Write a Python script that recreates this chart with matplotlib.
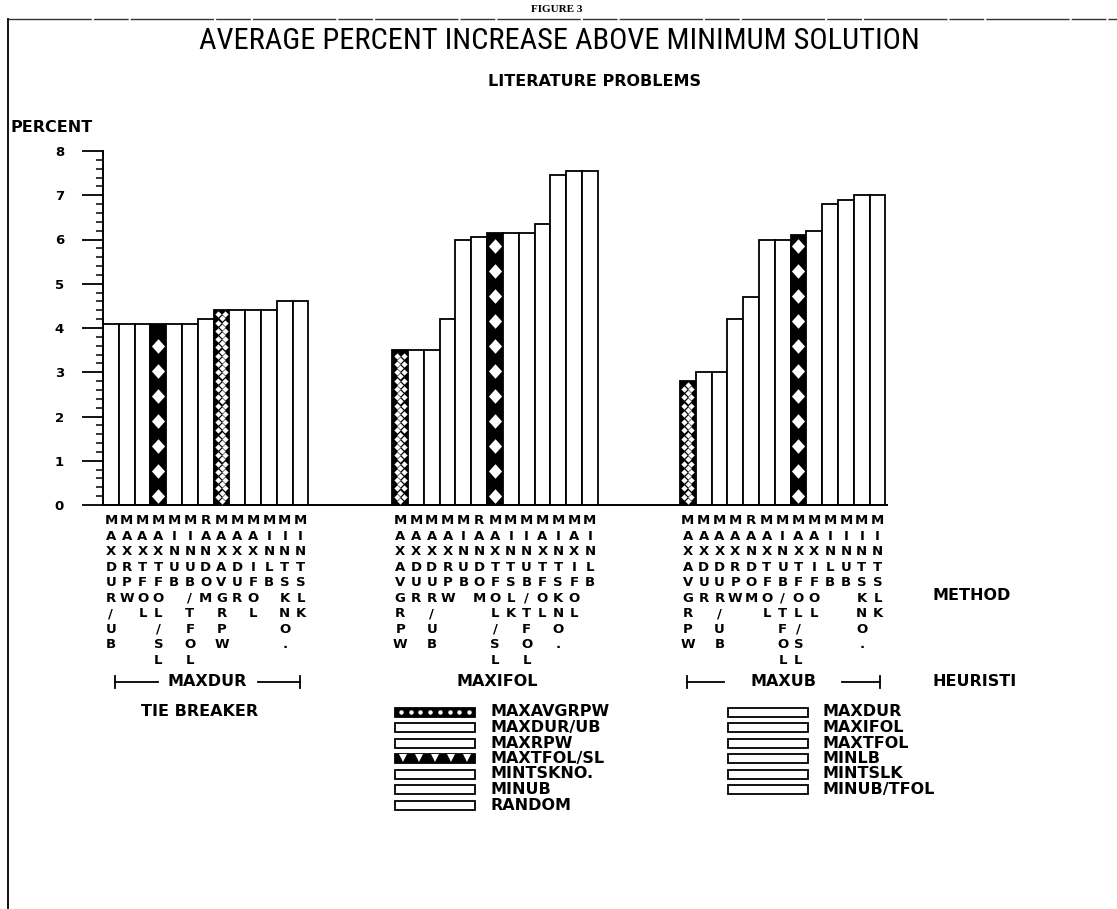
import matplotlib
matplotlib.use("Agg")
import matplotlib.pyplot as plt
from matplotlib import font_manager as fm
from matplotlib.patches import Rectangle
from matplotlib.lines import Line2D
from matplotlib.ticker import MultipleLocator

# ---------------- data ----------------
heuristics = ["MAXDUR", "MAXIFOL", "MAXUB"]

tie_maxdur = ["MAXDUR/UB", "MAXRPW", "MAXTFOL", "MAXTFOL/SL", "MINUB", "MINUB/TFOL",
              "RANDOM", "MAXAVGRPW", "MAXDUR", "MAXIFOL", "MINLB", "MINTSKNO.", "MINTSLK"]
val_maxdur = [4.1, 4.1, 4.1, 4.1, 4.1, 4.1, 4.2, 4.4, 4.4, 4.4, 4.4, 4.6, 4.6]

tie_maxifol = ["MAXAVGRPW", "MAXDUR", "MAXDUR/UB", "MAXRPW", "MINUB", "RANDOM",
               "MAXTFOL/SL", "MINTSLK", "MINUB/TFOL", "MAXTFOL", "MINTSKNO.", "MAXIFOL", "MINLB"]
val_maxifol = [3.5, 3.5, 3.5, 4.2, 6.0, 6.05, 6.15, 6.15, 6.15, 6.35, 7.45, 7.55, 7.55]

tie_maxub = ["MAXAVGRPW", "MAXDUR", "MAXDUR/UB", "MAXRPW", "RANDOM", "MAXTFOL",
             "MINUB/TFOL", "MAXTFOL/SL", "MAXIFOL", "MINLB", "MINUB", "MINTSKNO.", "MINTSLK"]
val_maxub = [2.8, 3.0, 3.0, 4.2, 4.7, 6.0, 6.0, 6.1, 6.2, 6.8, 6.9, 7.0, 7.0]

legend_col1 = ["MAXAVGRPW", "MAXDUR/UB", "MAXRPW", "MAXTFOL/SL", "MINTSKNO.", "MINUB", "RANDOM"]
legend_col2 = ["MAXDUR", "MAXIFOL", "MAXTFOL", "MINLB", "MINTSLK", "MINUB/TFOL"]

ytick_values = [0, 1, 2, 3, 4, 5, 6, 7, 8]

title = "AVERAGE PERCENT INCREASE ABOVE MINIMUM SOLUTION"
subtitle = "LITERATURE PROBLEMS"

# ---------------- fonts ----------------
def condensed_font():
    entries = fm.fontManager.ttflist
    for pref in ["Liberation Sans Narrow", "DejaVu Sans Condensed", "Noto Sans Condensed",
                 "Open Sans Condensed", "Roboto Condensed"]:
        for f in entries:
            if f.name == pref and f.style == "normal" and f.weight in (400, "normal", "regular"):
                return fm.FontProperties(fname=f.fname)
    for fam in ["DejaVu Sans", "Noto Sans", "Open Sans", "Roboto", "Liberation Sans"]:
        for f in entries:
            if (f.name == fam and f.style == "normal" and "ondensed" in str(f.stretch)
                    and f.weight in (400, "normal", "regular")):
                return fm.FontProperties(fname=f.fname)
    return fm.FontProperties(family="DejaVu Sans")

# ---------------- layout ----------------
W, H = 1117, 909
fig = plt.figure(figsize=(W / 100, H / 100), dpi=100)
fig.patch.set_facecolor("white")

def fx(x):
    return x / W

def fy(y):
    return 1 - y / H

PLOT = dict(family="DejaVu Sans", fontweight="bold", color="black")
TS = 11.5

ax = fig.add_axes([fx(103), fy(505), (887 - 103) / W, (505 - 151) / H])
ax.set_xlim(0, 49.6)
ax.set_ylim(0, 8)

group_offsets = [0.0, 18.3, 36.5]
groups = [(tie_maxdur, val_maxdur), (tie_maxifol, val_maxifol), (tie_maxub, val_maxub)]

diamond_marker = [(0, 1), (0.9, 0), (0, -1), (-0.9, 0), (0, 1)]
ROWSTEP = 4.15 / 44.3  # lattice row spacing in data units

tick_pos, tick_lab = [], []
for off, (names, vals) in zip(group_offsets, groups):
    xs = [off + i for i in range(len(vals))]
    for x, name, v in zip(xs, names, vals):
        if name == "MAXAVGRPW":
            ax.bar(x, v, width=1, align="edge", facecolor="black", edgecolor="black",
                   linewidth=1.3, zorder=2)
            hx, hy = [], []
            n = 1
            while n * ROWSTEP < v - 0.06:
                cols = [0.27, 0.73] if n % 2 == 0 else [0.5]
                for c in cols:
                    hx.append(x + c)
                    hy.append(n * ROWSTEP)
                n += 1
            ax.plot(hx, hy, linestyle="none", marker="D", markersize=3.2,
                    markerfacecolor="white", markeredgewidth=0, zorder=3)
        elif name == "MAXTFOL/SL":
            ax.bar(x, v, width=1, align="edge", facecolor="black", edgecolor="black",
                   linewidth=1.3, zorder=2)
            ys = []
            y = 0.2
            while y < v - 0.18:
                ys.append(y)
                y += 0.565
            ax.plot([x + 0.5] * len(ys), ys, linestyle="none", marker=diamond_marker,
                    markersize=10.5, markerfacecolor="white", markeredgecolor="white",
                    markeredgewidth=0, zorder=3)
        else:
            ax.bar(x, v, width=1, align="edge", facecolor="white", edgecolor="black",
                   linewidth=1.3, zorder=2)
        tick_pos.append(x + 0.5)
        tick_lab.append("\n".join(name))

ax.set_xticks(tick_pos)
ax.set_xticklabels(tick_lab, fontsize=9.5, linespacing=1.25, va="top", ha="center",
                   family="DejaVu Sans", fontweight="bold")
ax.tick_params(axis="x", length=0, pad=6.5)

ax.set_yticks(ytick_values)
ax.set_yticklabels([str(v) for v in ytick_values], fontsize=9.5,
                   family="DejaVu Sans", fontweight="bold")
ax.yaxis.set_minor_locator(MultipleLocator(0.2))
ax.tick_params(axis="y", which="major", direction="out", length=15, width=1.3, pad=13)
ax.tick_params(axis="y", which="minor", direction="out", length=5, width=1.1)

for s in ["top", "right"]:
    ax.spines[s].set_visible(False)
ax.spines["left"].set_linewidth(1.4)
ax.spines["bottom"].set_linewidth(1.4)

# ---------------- frame ----------------
fig.add_artist(Line2D([fx(8), 1.0], [fy(19), fy(19)], color="#333333", lw=1.0,
                      linestyle=(0, (60, 1.5, 25, 1.5))))
fig.add_artist(Line2D([fx(8), fx(8)], [fy(19), 0.0], color="black", lw=1.3))

# ---------------- texts ----------------
fig.text(fx(557), fy(9), "FIGURE 3", ha="center", va="center", fontsize=8,
         family=["Liberation Serif"], fontweight="bold")
tfp = condensed_font()
tfp.set_size(22)
title_txt = fig.text(fx(559), fy(41), title, ha="center", va="center", fontproperties=tfp)
fig.canvas.draw()
bb = title_txt.get_window_extent(renderer=fig.canvas.get_renderer())
title_txt.set_fontsize(22 * 718.0 / bb.width)

fig.text(fx(595), fy(82), subtitle, ha="center", va="center", fontsize=TS, **PLOT)
fig.text(fx(10), fy(127), "PERCENT", ha="left", va="center", fontsize=TS, **PLOT)

fig.text(fx(933), fy(595), "METHOD", ha="left", va="center", fontsize=TS, **PLOT)
fig.text(fx(933), fy(682), "HEURISTI", ha="left", va="center", fontsize=TS, **PLOT)
fig.text(fx(200), fy(712), "TIE BREAKER", ha="center", va="center", fontsize=TS, **PLOT)

# heuristic group labels with brackets
ROW = 682
def bracket(x0, x1, label, cx, l_end, r_start):
    fig.text(fx(cx), fy(ROW), label, ha="center", va="center", fontsize=TS, **PLOT)
    fig.add_artist(Line2D([fx(x0), fx(l_end)], [fy(ROW), fy(ROW)], color="black", lw=1.3))
    fig.add_artist(Line2D([fx(r_start), fx(x1)], [fy(ROW), fy(ROW)], color="black", lw=1.3))
    fig.add_artist(Line2D([fx(x0), fx(x0)], [fy(ROW - 6), fy(ROW + 6)], color="black", lw=1.3))
    fig.add_artist(Line2D([fx(x1), fx(x1)], [fy(ROW - 6), fy(ROW + 6)], color="black", lw=1.3))

bracket(115, 300, heuristics[0], 207, 158, 258)
fig.text(fx(497), fy(ROW), heuristics[1], ha="center", va="center", fontsize=TS, **PLOT)
bracket(687, 880, heuristics[2], 784, 724, 842)

# ---------------- legend ----------------
def legend_entry(bx, tx, y, name):
    bw, bh = 80, 9
    if name == "MAXAVGRPW":
        fig.add_artist(Rectangle((fx(bx), fy(y + bh / 2)), bw / W, bh / H, facecolor="black",
                                 edgecolor="black", lw=1.3, transform=fig.transFigure))
        xs = [fx(bx + 6 + 9.7 * k) for k in range(8)]
        fig.add_artist(Line2D(xs, [fy(y)] * 8, linestyle="none", marker="o",
                              markersize=3.2, markerfacecolor="white", markeredgewidth=0))
    elif name == "MAXTFOL/SL":
        fig.add_artist(Rectangle((fx(bx), fy(y + bh / 2)), bw / W, bh / H, facecolor="black",
                                 edgecolor="black", lw=1.3, transform=fig.transFigure))
        xs = [fx(bx + 8 + 16 * k) for k in range(5)]
        fig.add_artist(Line2D(xs, [fy(y - 1)] * 5, linestyle="none", marker="v",
                              markersize=6, markerfacecolor="white", markeredgewidth=0))
    else:
        fig.add_artist(Rectangle((fx(bx), fy(y + bh / 2)), bw / W, bh / H, facecolor="white",
                                 edgecolor="black", lw=1.3, transform=fig.transFigure))
    fig.text(fx(tx), fy(y), name, ha="left", va="center", fontsize=TS, **PLOT)

for i, name in enumerate(legend_col1):
    legend_entry(395, 490, 712 + 15.5 * i, name)
for i, name in enumerate(legend_col2):
    legend_entry(728, 823, 712 + 15.5 * i, name)

fig.savefig("out.png", dpi=100, facecolor="white")
